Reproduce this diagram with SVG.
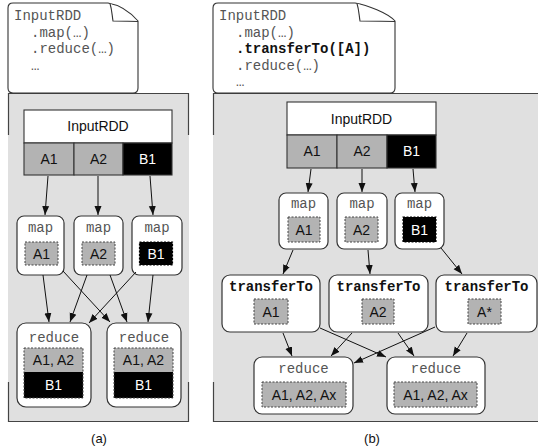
<svg xmlns="http://www.w3.org/2000/svg" width="538" height="448" viewBox="0 0 538 448">
<defs>
<marker id="ah" markerUnits="userSpaceOnUse" markerWidth="10" markerHeight="8" refX="9" refY="4" orient="auto">
<path d="M0,0.5 L9,4 L0,7.5 Z" fill="#111"/>
</marker>
<style>
.panel{fill:#e0e0e0}
.pl{stroke:#444;stroke-width:1.2;fill:none}
.doc{fill:#fff;stroke:#333;stroke-width:1.1}
.code{font-family:"Liberation Mono",monospace;font-size:14px;fill:#555}
.codeb{font-family:"Liberation Mono",monospace;font-size:14px;font-weight:bold;fill:#111}
.box{fill:#fff;stroke:#333;stroke-width:1.2}
.hdr{fill:#fff;stroke:#333;stroke-width:1.1}
.pa{fill:#b3b3b3;stroke:#333;stroke-width:1.1}
.pb{fill:#000;stroke:#333;stroke-width:1.1}
.ia{fill:#b3b3b3;stroke:#444;stroke-width:1;stroke-dasharray:2,1.5}
.ib{fill:#000;stroke:#000;stroke-width:1.2;stroke-dasharray:2,1.5}
.lbl{font-family:"Liberation Sans",Arial,sans-serif;font-size:14px;fill:#111;text-anchor:middle}
.lblw{font-family:"Liberation Sans",Arial,sans-serif;font-size:14px;fill:#fff;text-anchor:middle}
.mt{font-family:"Liberation Mono",monospace;font-size:14px;fill:#555;text-anchor:middle}
.mtb{font-family:"Liberation Mono",monospace;font-size:14px;font-weight:bold;fill:#111;text-anchor:middle}
.cap{font-family:"Liberation Sans",Arial,sans-serif;font-size:13px;fill:#111;text-anchor:middle}
.arr{stroke:#111;stroke-width:1;fill:none;marker-end:url(#ah)}
</style>
</defs>

<!-- panels -->
<g id="panel-a">
<rect class="panel" x="8" y="94" width="181" height="328"/>
<path class="pl" d="M8.5,135 V93.5 H188.5 V135 M8.5,382 V421.5 H188.5 V382"/>
</g>
<g id="panel-b">
<rect class="panel" x="213" y="94" width="325" height="328"/>
<path class="pl" d="M213.5,135 V93.5 H538 M213.5,382 V421.5 H538"/>
</g>

<!-- documents -->
<g id="doc-a">
<path class="doc" d="M8,8 Q8,3 13,3 H108 C120,5 131,13 138,21 V88 Q138,93 133,93 H13 Q8,93 8,88 Z"/>
<path class="doc" fill="none" d="M110,3.5 C112,10 112,15 113,21 C121,21 130,21 138,21.5"/>
<text class="code" x="14" y="20">InputRDD</text>
<text class="code" x="31" y="36.5">.map(…)</text>
<text class="code" x="31" y="53">.reduce(…)</text>
<text class="code" x="31" y="69.5">…</text>
</g>
<g id="doc-b">
<path class="doc" d="M213,8 Q213,3 218,3 H355 C367,5 388,13 395,21 V88 Q395,93 390,93 H218 Q213,93 213,88 Z"/>
<path class="doc" fill="none" d="M357,3.5 C359,10 359,15 360,21 C370,21 384,21 395,21.5"/>
<text class="code" x="219" y="20">InputRDD</text>
<text class="code" x="236" y="36.5">.map(…)</text>
<text class="codeb" x="236" y="53">.transferTo([A])</text>
<text class="code" x="236" y="69.5">.reduce(…)</text>
<text class="code" x="236" y="86">…</text>
</g>

<!-- panel (a) nodes -->
<g id="a-input">
<rect class="hdr" x="24" y="110" width="148" height="33"/>
<text class="lbl" x="98" y="131">InputRDD</text>
<rect class="pa" x="24" y="143" width="50" height="32"/>
<rect class="pa" x="74" y="143" width="49" height="32"/>
<rect class="pb" x="123" y="143" width="49" height="32"/>
<text class="lbl" x="49" y="164">A1</text>
<text class="lbl" x="98.5" y="164">A2</text>
<text class="lblw" x="147.5" y="164">B1</text>
</g>
<g id="a-map1">
<rect class="box" x="17" y="216" width="47" height="59" rx="7"/>
<text class="mt" x="40.5" y="232">map</text>
<rect class="ia" x="25" y="242" width="33" height="23"/>
<text class="lbl" x="41.5" y="259">A1</text>
</g>
<g id="a-map2">
<rect class="box" x="74" y="216" width="49" height="59" rx="7"/>
<text class="mt" x="98.5" y="232">map</text>
<rect class="ia" x="82" y="242" width="33" height="23"/>
<text class="lbl" x="98.5" y="259">A2</text>
</g>
<g id="a-map3">
<rect class="box" x="132" y="216" width="50" height="59" rx="7"/>
<text class="mt" x="157" y="232">map</text>
<rect class="ib" x="139.5" y="242" width="33" height="23"/>
<text class="lblw" x="156" y="259">B1</text>
</g>
<g id="a-reduce1">
<rect class="box" x="17" y="323" width="74" height="84" rx="9"/>
<text class="mt" x="54" y="342">reduce</text>
<rect x="24" y="348" width="59" height="24" fill="#b3b3b3"/>
<rect x="24" y="372" width="59" height="26" fill="#000"/>
<rect x="24" y="348" width="59" height="50" fill="none" stroke="#444" stroke-width="1" stroke-dasharray="2,1.5"/>
<text class="lbl" x="53.5" y="365">A1, A2</text>
<text class="lblw" x="53.5" y="390">B1</text>
</g>
<g id="a-reduce2">
<rect class="box" x="107" y="323" width="74" height="84" rx="9"/>
<text class="mt" x="144" y="342">reduce</text>
<rect x="114" y="348" width="59" height="24" fill="#b3b3b3"/>
<rect x="114" y="372" width="59" height="26" fill="#000"/>
<rect x="114" y="348" width="59" height="50" fill="none" stroke="#444" stroke-width="1" stroke-dasharray="2,1.5"/>
<text class="lbl" x="143.5" y="365">A1, A2</text>
<text class="lblw" x="143.5" y="390">B1</text>
</g>

<!-- panel (b) nodes -->
<g id="b-input">
<rect class="hdr" x="287" y="102" width="149" height="33"/>
<text class="lbl" x="361.5" y="124">InputRDD</text>
<rect class="pa" x="287" y="135" width="50" height="33"/>
<rect class="pa" x="337" y="135" width="50" height="33"/>
<rect class="pb" x="387" y="135" width="49" height="33"/>
<text class="lbl" x="312" y="156">A1</text>
<text class="lbl" x="362" y="156">A2</text>
<text class="lblw" x="411.5" y="156">B1</text>
</g>
<g id="b-map1">
<rect class="box" x="279" y="193" width="49" height="56" rx="7"/>
<text class="mt" x="303.5" y="208">map</text>
<rect class="ia" x="288" y="217" width="32" height="25"/>
<text class="lbl" x="304" y="235">A1</text>
</g>
<g id="b-map2">
<rect class="box" x="337" y="193" width="50" height="56" rx="7"/>
<text class="mt" x="362" y="208">map</text>
<rect class="ia" x="345" y="217" width="33" height="25"/>
<text class="lbl" x="361.5" y="235">A2</text>
</g>
<g id="b-map3">
<rect class="box" x="395" y="193" width="49" height="56" rx="7"/>
<text class="mt" x="419.5" y="208">map</text>
<rect class="ib" x="403" y="217" width="33" height="25"/>
<text class="lblw" x="419.5" y="235">B1</text>
</g>
<g id="b-transfer1">
<rect class="box" x="222" y="275" width="98" height="57" rx="8"/>
<text class="mtb" x="271" y="291">transferTo</text>
<rect class="ia" x="254" y="299" width="34" height="25"/>
<text class="lbl" x="271" y="317">A1</text>
</g>
<g id="b-transfer2">
<rect class="box" x="329" y="275" width="99" height="57" rx="8"/>
<text class="mtb" x="378.5" y="291">transferTo</text>
<rect class="ia" x="362" y="299" width="32" height="25"/>
<text class="lbl" x="378" y="317">A2</text>
</g>
<g id="b-transfer3">
<rect class="box" x="436" y="275" width="101" height="57" rx="8"/>
<text class="mtb" x="486.5" y="291">transferTo</text>
<rect class="ia" x="468" y="299" width="33" height="25"/>
<text class="lbl" x="484.5" y="317">A*</text>
</g>
<g id="b-reduce1">
<rect class="box" x="254" y="357" width="99" height="57" rx="8"/>
<text class="mt" x="303.5" y="373">reduce</text>
<rect class="ia" x="262" y="382" width="84" height="25"/>
<text class="lbl" x="304" y="400">A1, A2, Ax</text>
</g>
<g id="b-reduce2">
<rect class="box" x="387" y="357" width="98" height="57" rx="8"/>
<text class="mt" x="436" y="373">reduce</text>
<rect class="ia" x="394" y="382" width="83" height="25"/>
<text class="lbl" x="435.5" y="400">A1, A2, Ax</text>
</g>

<!-- connectors -->
<g id="connectors">
<line class="arr" x1="48" y1="176" x2="45" y2="215"/>
<line class="arr" x1="98" y1="176" x2="98" y2="215"/>
<line class="arr" x1="150" y1="176" x2="153" y2="215"/>
<line class="arr" x1="43" y1="275" x2="49" y2="322"/>
<line class="arr" x1="63" y1="271" x2="110" y2="322"/>
<line class="arr" x1="87" y1="275" x2="70" y2="322"/>
<line class="arr" x1="110" y1="275" x2="127" y2="322"/>
<line class="arr" x1="136" y1="272" x2="89" y2="323"/>
<line class="arr" x1="153" y1="275" x2="148" y2="322"/>

<line class="arr" x1="311" y1="169" x2="308" y2="192"/>
<line class="arr" x1="362" y1="169" x2="362" y2="192"/>
<line class="arr" x1="413" y1="169" x2="415" y2="192"/>
<line class="arr" x1="293" y1="250" x2="283" y2="274"/>
<line class="arr" x1="368" y1="250" x2="370" y2="274"/>
<line class="arr" x1="441" y1="248" x2="462" y2="274"/>
<line class="arr" x1="283" y1="333" x2="292" y2="356"/>
<line class="arr" x1="320" y1="328" x2="386" y2="357"/>
<line class="arr" x1="352" y1="333" x2="331" y2="356"/>
<line class="arr" x1="398" y1="333" x2="414" y2="356"/>
<line class="arr" x1="435" y1="327" x2="354" y2="363"/>
<line class="arr" x1="467" y1="333" x2="453" y2="356"/>
</g>

<text class="cap" x="99" y="443">(a)</text>
<text class="cap" x="372" y="443">(b)</text>
</svg>
